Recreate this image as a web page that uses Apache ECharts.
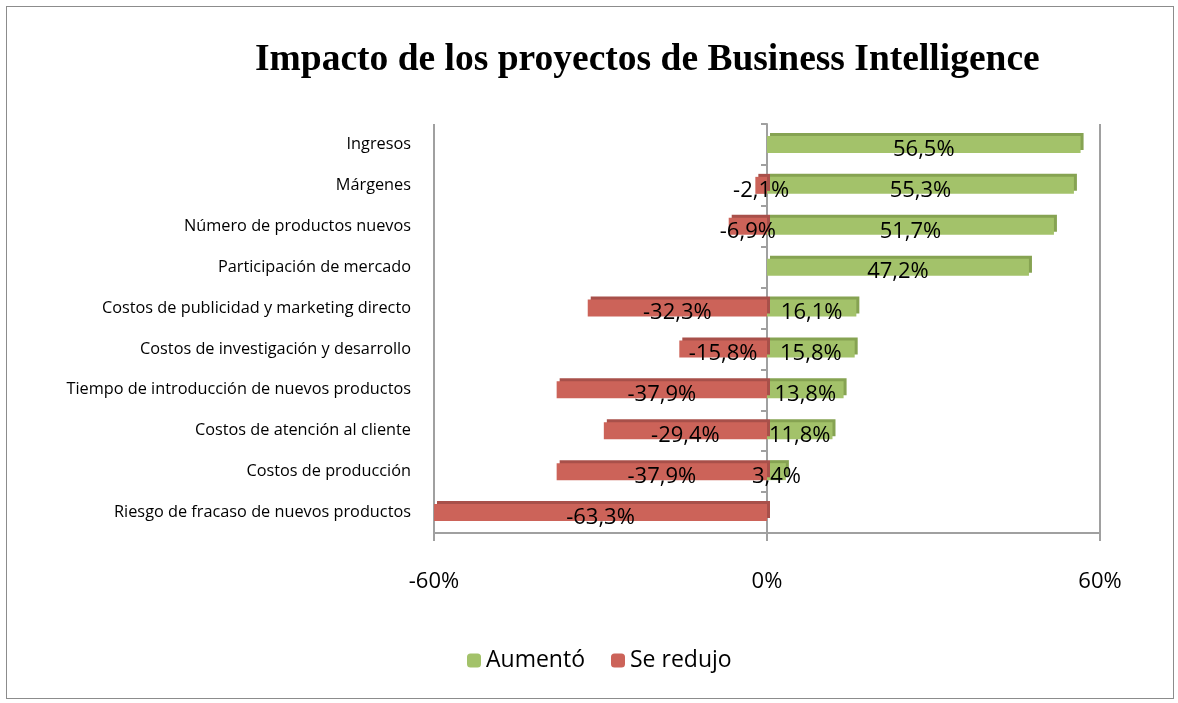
<!DOCTYPE html>
<html>
<head>
<meta charset="utf-8">
<script src="https://cdn.jsdelivr.net/npm/echarts@6/dist/echarts.min.js"></script>
<style>
  html, body { margin: 0; padding: 0; background: #fff; }
  #chart { position: absolute; left: 6px; top: 6px; width: 1168px; height: 693px; border: 1px solid #8c8c8c; box-sizing: border-box; }
</style>
</head>
<body>
<div id="chart"></div>
<script>
  // categorias de arriba a abajo
  const categories = [
    'Ingresos',
    'Márgenes',
    'Número de productos nuevos',
    'Participación de mercado',
    'Costos de publicidad y marketing directo',
    'Costos de investigación y desarrollo',
    'Tiempo de introducción de nuevos productos',
    'Costos de atención al cliente',
    'Costos de producción',
    'Riesgo de fracaso de nuevos productos'
  ];
  const aumento = [56.5, 55.3, 51.7, 47.2, 16.1, 15.8, 13.8, 11.8, 3.4, null];
  const redujo = [null, -2.1, -6.9, null, -32.3, -15.8, -37.9, -29.4, -37.9, -63.3];
  const xTicks = [-60, 0, 60];

  const fmt = v => String(v).replace('.', ',') + '%';
  const labelFont = '"Open Sans", sans-serif';

  const myChart = echarts.init(document.getElementById('chart'));
  const option = {
    animation: false,
    title: {
      text: 'Impacto de los proyectos de Business Intelligence',
      left: 243,
      top: 29,
      textStyle: { fontFamily: '"Liberation Serif", serif', fontWeight: 'bold', fontSize: 37.5, color: '#000' }
    },
    legend: {
      bottom: 21,
      left: 455,
      itemWidth: 14,
      itemHeight: 14,
      itemGap: 26,
      textStyle: { fontFamily: labelFont, fontSize: 23, color: '#000' },
      data: ['Aumentó', 'Se redujo']
    },
    grid: { left: 427, right: 73, top: 117, bottom: 165 },
    xAxis: {
      type: 'value',
      min: -60,
      max: 60,
      interval: 60,
      axisLine: { show: true, lineStyle: { color: '#a0a0a0', width: 2 } },
      axisTick: { show: true, length: 8, lineStyle: { color: '#a0a0a0', width: 2 } },
      splitLine: { show: true, lineStyle: { color: '#a0a0a0', width: 2 } },
      axisLabel: {
        margin: 38,
        fontFamily: labelFont,
        fontSize: 22,
        color: '#000',
        formatter: v => xTicks.includes(v) ? v + '%' : ''
      }
    },
    yAxis: {
      type: 'category',
      inverse: true,
      data: categories,
      axisLine: { show: true, lineStyle: { color: '#a0a0a0', width: 2 } },
      axisTick: { show: true, length: 6, lineStyle: { color: '#a0a0a0', width: 2 } },
      axisLabel: { margin: 23, fontFamily: labelFont, fontSize: 16.3, color: '#000', padding: [3, 0, 0, 0] }
    },
    series: [
      {
        name: 'Aumentó',
        type: 'bar',
        stack: 'total',
        barWidth: 17,
        data: aumento,
        itemStyle: { color: '#a3c26a', shadowColor: '#86a352', shadowOffsetX: 3, shadowOffsetY: -3, shadowBlur: 0 },
        label: {
          show: true, position: 'inside', offset: [0, 5],
          fontFamily: labelFont, fontSize: 22, color: '#000',
          formatter: p => fmt(p.value)
        }
      },
      {
        name: 'Se redujo',
        type: 'bar',
        stack: 'total',
        barWidth: 17,
        data: redujo,
        itemStyle: { color: '#cc6359', shadowColor: '#a8504a', shadowOffsetX: 3, shadowOffsetY: -3, shadowBlur: 0 },
        label: {
          show: true, position: 'inside', offset: [0, 5],
          fontFamily: labelFont, fontSize: 22, color: '#000',
          formatter: p => fmt(p.value)
        }
      }
    ]
  };
  myChart.setOption(option);
</script>
</body>
</html>
